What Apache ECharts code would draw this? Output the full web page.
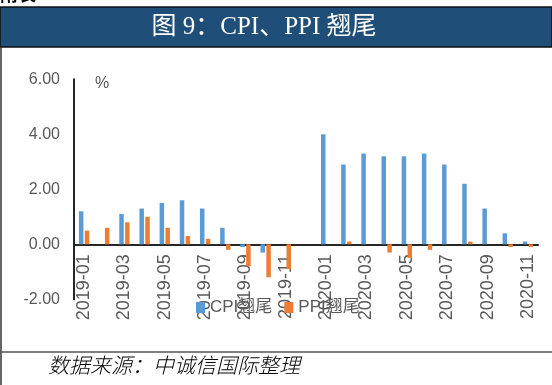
<!DOCTYPE html>
<html><head><meta charset="utf-8">
<script src="https://cdn.jsdelivr.net/npm/echarts@6/dist/echarts.min.js"></script>
<style>html,body{margin:0;padding:0;background:#fff}#c{width:552px;height:385px}</style>
</head><body><div id="c"></div>
<script>
const categories = ['2019-01','2019-02','2019-03','2019-04','2019-05','2019-06','2019-07','2019-08','2019-09','2019-10','2019-11','2019-12',
  '2020-01','2020-02','2020-03','2020-04','2020-05','2020-06','2020-07','2020-08','2020-09','2020-10','2020-11'];
const cpiTail = [1.2,0,1.1,1.3,1.5,1.6,1.3,0.6,-0.1,-0.3,0,0, 4.0,2.9,3.3,3.2,3.2,3.3,2.9,2.2,1.3,0.4,0.1];
const ppiTail = [0.5,0.6,0.8,1.0,0.6,0.3,0.2,-0.2,-0.8,-1.2,-0.9,0, 0,0.1,0,-0.3,-0.5,-0.2,0,0.1,0,-0.1,-0.1];
const yTicks = [-2, 0, 2, 4, 6];
const titleText = '图 9：CPI、PPI 翘尾';
const sourceText = '数据来源：中诚信国际整理';

const gridTop = 79.3, gridBottomPx = 299.3;
const yMin = yTicks[0], yMax = yTicks[yTicks.length-1];
// distance from grid bottom to the zero line, so the category axis sits on zero
const zeroOffset = (gridBottomPx - gridTop) * (0 - yMin) / (yMax - yMin);

const chart = echarts.init(document.getElementById('c'), null, {renderer:'canvas'});
chart.setOption({
  animation:false,
  backgroundColor:'#fff',
  grid:{left:74,right:14,top:gridTop,bottom:385-gridBottomPx,containLabel:false},
  legend:{
    left:191, top:294, itemWidth:9, itemHeight:11, itemGap:12,
    icon:'rect',
    textStyle:{fontSize:17,color:'#595959',fontFamily:'Liberation Sans, Noto Sans CJK SC'},
    data:['CPI翘尾','PPI翘尾']
  },
  xAxis:{
    type:'category', data:categories, position:'bottom', offset:-zeroOffset,
    axisLine:{onZero:false,lineStyle:{color:'#262626',width:2}},
    axisTick:{show:false},
    axisLabel:{interval:1,rotate:90,fontSize:18,color:'#595959',margin:10,fontFamily:'Liberation Sans'}
  },
  yAxis:{
    type:'value', min:yMin, max:yMax, interval:2,
    splitLine:{show:false},
    axisLine:{show:true,lineStyle:{color:'#262626',width:2}},
    axisTick:{show:false},
    axisLabel:{fontSize:16,color:'#595959',margin:14,fontFamily:'Liberation Sans',formatter:v=>v.toFixed(2)}
  },
  series:[
    {name:'CPI翘尾',type:'bar',data:cpiTail,barWidth:4.5,barGap:'30%',itemStyle:{color:'#5B9BD5'}},
    {name:'PPI翘尾',type:'bar',data:ppiTail,barWidth:4.5,itemStyle:{color:'#ED7D31'}}
  ],
  graphic:[
    {type:'text',left:0,top:-15,style:{text:'附表',fontSize:18,fontWeight:'bold',fill:'#000',fontFamily:'Noto Sans CJK SC'}},
    {type:'rect',shape:{x:0,y:7,width:552,height:40},style:{fill:'#1F4E79',stroke:'#111',lineWidth:1.5}},
    {type:'text',x:264,y:27,style:{text:titleText,fontSize:25,fill:'#fff',align:'center',verticalAlign:'middle',fontFamily:'Liberation Serif, Noto Sans CJK SC'}},
    {type:'line',shape:{x1:1,y1:47,x2:1,y2:385},style:{stroke:'#333',lineWidth:1.5}},
    {type:'line',shape:{x1:0,y1:352,x2:552,y2:352},style:{stroke:'#555',lineWidth:1.5}},
    {type:'text',x:95,y:76,style:{text:'%',fontSize:16,fill:'#595959',fontFamily:'Liberation Sans'}},
    {type:'text',x:48,y:355,style:{text:sourceText,fontSize:21,fontStyle:'italic',fontWeight:300,fill:'#000',fontFamily:'Noto Sans CJK SC'}}
  ]
});
</script></body></html>
